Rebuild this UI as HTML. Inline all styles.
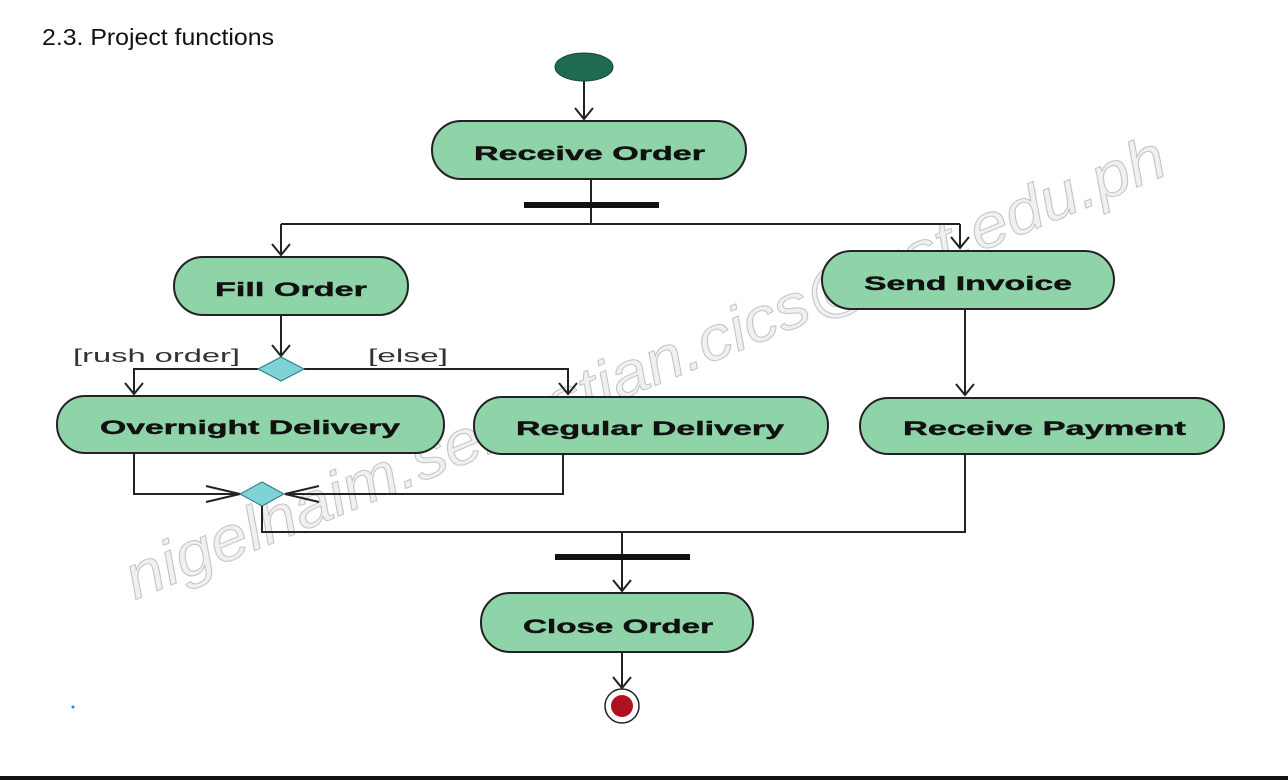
<!DOCTYPE html>
<html><head><meta charset="utf-8"><style>
html,body{margin:0;padding:0;background:#fff;width:1288px;height:780px;overflow:hidden}
svg{display:block}
.n{fill:#8fd3a9;stroke:#222;stroke-width:2}
.t{font-family:"Liberation Sans",sans-serif;font-weight:bold;font-size:19px;fill:#111;stroke:#111;stroke-width:0.4}
.l{stroke:#222;stroke-width:2;fill:none}
.g{font-family:"Liberation Sans",sans-serif;font-size:18px;fill:#333}
</style></head><body>
<svg width="1288" height="780" viewBox="0 0 1288 780">
<text x="42" y="45" font-family="Liberation Sans Narrow, Liberation Sans, sans-serif" font-size="23" fill="#111" textLength="232" lengthAdjust="spacingAndGlyphs">2.3. Project functions</text>
<text x="135" y="600" transform="rotate(-22.4 135 600)" font-family="Liberation Sans,sans-serif" font-style="italic" font-size="62" fill="#f0f0f0" stroke="#c4c4c4" stroke-width="1" textLength="1120" lengthAdjust="spacingAndGlyphs">nigelhaim.sebastian.cics@ust.edu.ph</text>
<ellipse cx="584" cy="67" rx="29" ry="14" fill="#1e6b50" stroke="#1a4a3a" stroke-width="1"/>
<path class="l" d="M584 81V119M575 108L584 119L593 108"/>
<rect class="n" x="432" y="121" width="314" height="58" rx="29"/>
<text class="t" x="474" y="160" textLength="231" lengthAdjust="spacingAndGlyphs">Receive Order</text>
<path class="l" d="M591 179V224M281 224H960M281 224V255M272 244L281 255L290 244M960 224V248M951 237L960 248L969 237"/>
<rect x="524" y="202" width="135" height="6" fill="#111"/>
<rect class="n" x="174" y="257" width="234" height="58" rx="29"/>
<text class="t" x="215" y="296" textLength="152" lengthAdjust="spacingAndGlyphs">Fill Order</text>
<rect class="n" x="822" y="251" width="292" height="58" rx="29"/>
<text class="t" x="864" y="290" textLength="208" lengthAdjust="spacingAndGlyphs">Send Invoice</text>
<path class="l" d="M281 315V356M272 345L281 356L290 345"/>
<path class="l" d="M258 369H134V394M125 383L134 394L143 383M304 369H568V394M559 383L568 394L577 383"/>
<polygon points="281,357 304,369 281,381 258,369" fill="#7fd2d6" stroke="#2a7a80" stroke-width="1"/>
<text class="g" x="73" y="362" textLength="167" lengthAdjust="spacingAndGlyphs">[rush order]</text>
<text class="g" x="368" y="362" textLength="80" lengthAdjust="spacingAndGlyphs">[else]</text>
<path class="l" d="M965 309V395M956 384L965 395L974 384"/>
<rect class="n" x="57" y="396" width="387" height="57" rx="28"/>
<text class="t" x="100" y="434" textLength="300" lengthAdjust="spacingAndGlyphs">Overnight Delivery</text>
<rect class="n" x="474" y="397" width="354" height="57" rx="28"/>
<text class="t" x="516" y="435" textLength="268" lengthAdjust="spacingAndGlyphs">Regular Delivery</text>
<rect class="n" x="860" y="398" width="364" height="56" rx="28"/>
<text class="t" x="903" y="435" textLength="283" lengthAdjust="spacingAndGlyphs">Receive Payment</text>
<path class="l" d="M134 453V494H240M206 486L240 494L206 502M563 454V494H285M319 486L285 494L319 502"/>
<polygon points="262,482 284,494 262,506 240,494" fill="#7fd2d6" stroke="#2a7a80" stroke-width="1"/>
<path class="l" d="M262 506V532H965V454M622 532V591M613 580L622 591L631 580"/>
<rect x="555" y="554" width="135" height="6" fill="#111"/>
<rect class="n" x="481" y="593" width="272" height="59" rx="29"/>
<text class="t" x="523" y="633" textLength="190" lengthAdjust="spacingAndGlyphs">Close Order</text>
<path class="l" d="M622 652V688M613 677L622 688L631 677"/>
<circle cx="622" cy="706" r="17" fill="#fff" stroke="#222" stroke-width="1.5"/>
<circle cx="622" cy="706" r="11" fill="#b01020"/>
<circle cx="73" cy="707" r="1.5" fill="#09c"/>
<rect x="0" y="776" width="1288" height="4" fill="#111"/>
</svg>
</body></html>
